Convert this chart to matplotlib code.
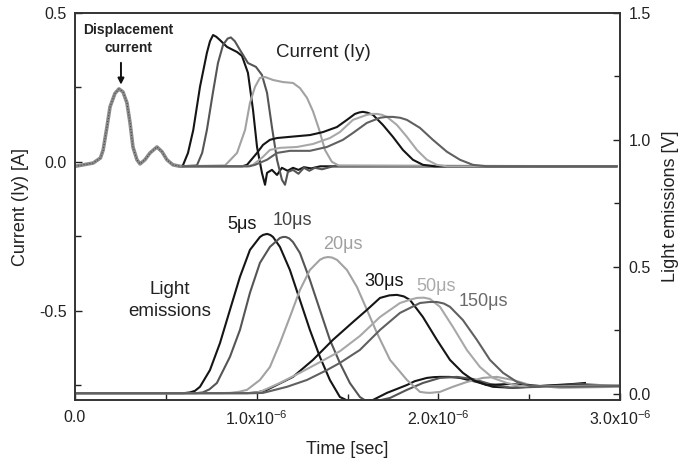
import matplotlib
matplotlib.use("Agg")
import matplotlib.pyplot as plt
from matplotlib.ticker import MultipleLocator

plt.rcParams['font.family'] = ['Liberation Sans', 'DejaVu Sans']
plt.rcParams['mathtext.default'] = 'regular'

# time in microseconds
# displacement current part shared by all six traces (A)
disp_t = [0.0, 0.10, 0.14, 0.155, 0.176, 0.193, 0.22, 0.242, 0.264, 0.286, 0.303,
          0.319, 0.341, 0.358, 0.385, 0.413, 0.451, 0.479, 0.506, 0.539, 0.578]
disp_i = [-0.015, -0.004, 0.013, 0.04, 0.118, 0.185, 0.23, 0.245, 0.235, 0.198, 0.131,
          0.05, 0.007, -0.007, 0.007, 0.03, 0.05, 0.034, 0.007, -0.01, -0.015]

# current (Iy) per pulse width
cur5_t = [0.58, 0.594, 0.622, 0.651, 0.688, 0.726, 0.743, 0.760, 0.778, 0.798, 0.837, 0.892, 0.919,
          0.952, 0.980, 1.002, 1.029, 1.046, 1.057, 1.084, 1.112, 1.139, 1.17, 1.2, 1.23, 1.26, 1.3,
          1.35, 2.98]
cur5_i = [-0.015, -0.012, 0.03, 0.107, 0.252, 0.366, 0.405, 0.426, 0.42, 0.409, 0.386, 0.369, 0.356,
          0.299, 0.174, 0.05, -0.037, -0.077, -0.037, -0.027, -0.044, -0.02, -0.03, -0.02, -0.027, -0.018, -0.022,
          -0.015, -0.015]

cur10_t = [0.58, 0.671, 0.70, 0.726, 0.759, 0.787, 0.815, 0.84, 0.858, 0.88, 0.908, 0.952, 0.996,
           1.029, 1.057, 1.084, 1.112, 1.139, 1.156, 1.172, 1.2, 1.23, 1.26, 1.29, 1.32, 1.36, 1.42, 2.98]
cur10_i = [-0.015, -0.012, 0.03, 0.107, 0.232, 0.332, 0.393, 0.414, 0.418, 0.405, 0.376, 0.332, 0.319,
           0.292, 0.232, 0.117, 0.007, -0.06, -0.077, -0.034, -0.027, -0.04, -0.02, -0.03, -0.02, -0.025, -0.015, -0.015]

cur20_t = [0.58, 0.826, 0.892, 0.936, 0.963, 0.991, 1.018, 1.046, 1.09, 1.145, 1.2, 1.238, 1.277,
           1.31, 1.343, 1.376, 1.414, 1.45, 2.98]
cur20_i = [-0.015, -0.012, 0.03, 0.107, 0.198, 0.252, 0.282, 0.285, 0.275, 0.268, 0.265, 0.248, 0.215,
           0.17, 0.11, 0.04, 0.0, -0.012, -0.015]

cur30_t = [0.58, 0.92, 0.947, 1.002, 1.035, 1.073, 1.112, 1.183, 1.293, 1.365, 1.442, 1.497, 1.541,
           1.565, 1.585, 1.61, 1.64, 1.695, 1.75, 1.805, 1.86, 1.915, 1.98, 2.98]
cur30_i = [-0.015, -0.015, -0.01, 0.03, 0.057, 0.074, 0.08, 0.084, 0.09, 0.10, 0.117, 0.141, 0.161,
           0.166, 0.168, 0.165, 0.158, 0.124, 0.084, 0.04, 0.007, -0.01, -0.015, -0.015]

cur50_t = [0.58, 0.95, 0.98, 1.035, 1.073, 1.128, 1.222, 1.31, 1.403, 1.458, 1.53, 1.607, 1.635,
           1.662, 1.69, 1.717, 1.772, 1.827, 1.882, 1.937, 1.992, 2.047, 2.98]
cur50_i = [-0.015, -0.015, -0.01, 0.017, 0.04, 0.047, 0.05, 0.06, 0.08, 0.10, 0.141, 0.158, 0.161,
           0.161, 0.158, 0.151, 0.124, 0.084, 0.04, 0.007, -0.01, -0.015, -0.015]

cur150_t = [0.58, 0.96, 0.991, 1.057, 1.112, 1.183, 1.293, 1.387, 1.475, 1.53, 1.607, 1.679, 1.715,
            1.75, 1.79, 1.827, 1.899, 1.97, 2.047, 2.119, 2.19, 2.268, 2.98]
cur150_i = [-0.015, -0.015, -0.01, 0.007, 0.03, 0.037, 0.037, 0.05, 0.074, 0.097, 0.131, 0.148, 0.151,
            0.151, 0.148, 0.141, 0.114, 0.074, 0.034, 0.007, -0.01, -0.015, -0.015]

# light emissions (V)
le5_t = [0.0, 0.60, 0.633, 0.66, 0.688, 0.743, 0.798, 0.853, 0.908, 0.963, 1.018, 1.035, 1.057, 1.075,
         1.09, 1.128, 1.183, 1.238, 1.293, 1.348, 1.403, 1.458, 1.513, 1.54, 1.568, 1.64, 1.717, 1.827,
         1.87, 1.937, 1.975, 2.009, 2.06, 2.119, 2.212, 2.3, 2.41, 2.559, 2.741, 2.807]
le5_v = [0.003, 0.003, 0.006, 0.012, 0.028, 0.094, 0.2, 0.331, 0.461, 0.567, 0.618, 0.626, 0.63, 0.626,
         0.618, 0.579, 0.488, 0.37, 0.252, 0.146, 0.055, -0.012, -0.031, -0.034, -0.035, -0.024, 0.004, 0.035,
         0.05, 0.063, 0.066, 0.067, 0.067, 0.063, 0.047, 0.028, 0.024, 0.031, 0.039, 0.043]

le10_t = [0.0, 0.67, 0.704, 0.74, 0.781, 0.853, 0.908, 0.963, 1.018, 1.073, 1.128, 1.145, 1.161, 1.18,
          1.2, 1.238, 1.293, 1.348, 1.403, 1.458, 1.513, 1.568, 1.60, 1.64, 1.734, 1.827, 1.915, 2.009,
          2.102, 2.19, 2.284, 2.394, 2.559, 2.779, 2.99]
le10_v = [0.003, 0.003, 0.006, 0.018, 0.043, 0.146, 0.252, 0.398, 0.516, 0.579, 0.614, 0.618, 0.618, 0.612,
          0.598, 0.555, 0.449, 0.331, 0.213, 0.122, 0.043, -0.012, -0.027, -0.031, -0.016, 0.016, 0.043, 0.063,
          0.067, 0.059, 0.039, 0.024, 0.028, 0.039, 0.031]

le20_t = [0.0, 0.80, 0.853, 0.90, 0.947, 1.018, 1.073, 1.128, 1.183, 1.238, 1.293, 1.348, 1.37, 1.392,
          1.415, 1.442, 1.497, 1.552, 1.607, 1.662, 1.734, 1.827, 1.899, 1.93, 1.954, 2.009, 2.08, 2.157,
          2.245, 2.322, 2.41, 2.504, 2.669, 2.99]
le20_v = [0.003, 0.003, 0.004, 0.008, 0.016, 0.055, 0.106, 0.2, 0.303, 0.409, 0.488, 0.528, 0.536, 0.539,
          0.537, 0.528, 0.488, 0.421, 0.331, 0.24, 0.134, 0.055, 0.008, 0.005, 0.004, 0.008, 0.028, 0.047,
          0.063, 0.067, 0.055, 0.035, 0.024, 0.028]

le30_t = [0.0, 0.95, 1.002, 1.05, 1.09, 1.2, 1.31, 1.42, 1.53, 1.607, 1.679, 1.73, 1.772, 1.81, 1.844,
          1.915, 1.992, 2.064, 2.135, 2.19, 2.267, 2.394, 2.559, 2.779, 2.99]
le30_v = [0.003, 0.003, 0.006, 0.014, 0.028, 0.067, 0.134, 0.213, 0.283, 0.331, 0.378, 0.388, 0.39, 0.384, 0.37,
          0.303, 0.213, 0.134, 0.083, 0.055, 0.035, 0.039, 0.031, 0.035, 0.033]

le50_t = [0.0, 0.98, 1.018, 1.128, 1.238, 1.348, 1.458, 1.568, 1.679, 1.789, 1.85, 1.882, 1.92, 1.954,
          2.009, 2.08, 2.157, 2.229, 2.3, 2.378, 2.449, 2.669, 2.99]
le50_v = [0.003, 0.003, 0.008, 0.043, 0.083, 0.125, 0.168, 0.228, 0.303, 0.358, 0.372, 0.378, 0.379, 0.374,
          0.343, 0.264, 0.173, 0.106, 0.063, 0.043, 0.031, 0.031, 0.035]

le150_t = [0.0, 1.0, 1.035, 1.167, 1.277, 1.387, 1.458, 1.568, 1.679, 1.789, 1.899, 1.95, 1.992, 2.03,
           2.064, 2.135, 2.212, 2.284, 2.356, 2.433, 2.504, 2.724, 2.99]
le150_v = [0.003, 0.003, 0.004, 0.028, 0.055, 0.094, 0.122, 0.173, 0.252, 0.319, 0.358, 0.362, 0.362, 0.356,
           0.343, 0.291, 0.213, 0.134, 0.083, 0.047, 0.031, 0.028, 0.031]

widths = ["5\u03bcs", "10\u03bcs", "20\u03bcs", "30\u03bcs", "50\u03bcs", "150\u03bcs"]
colors = ["#151515", "#555555", "#a2a2a2", "#151515", "#a8a8a8", "#606060"]
label_colors = ["#151515", "#444444", "#a0a0a0", "#151515", "#aaaaaa", "#6a6a6a"]

x_ticks = [0, 1, 2, 3]
x_ticklabels = ["0.0", "1.0x10$^{-6}$", "2.0x10$^{-6}$", "3.0x10$^{-6}$"]

currents = [(cur5_t, cur5_i), (cur10_t, cur10_i), (cur20_t, cur20_i),
            (cur30_t, cur30_i), (cur50_t, cur50_i), (cur150_t, cur150_i)]
lights = [(le5_t, le5_v), (le10_t, le10_v), (le20_t, le20_v),
          (le30_t, le30_v), (le50_t, le50_v), (le150_t, le150_v)]

fig = plt.figure(figsize=(6.92, 4.63), dpi=100)
ax = fig.add_axes([75 / 692, 1 - 400 / 463, 545 / 692, 387 / 463])
ax2 = ax.twinx()

lw = 1.5
for (t, i), c in zip(currents, colors):
    ax.plot(t, i, color=c, lw=lw, solid_joinstyle="round")
ax.plot(disp_t, disp_i, color="#8c8c8c", lw=2.6, solid_capstyle="round", solid_joinstyle="round")
ax.plot(disp_t, disp_i, color="#3a3a3a", lw=0.7, ls=(0, (1, 2)))

for (t, v), c in zip(lights, colors):
    ax2.plot(t, v, color=c, lw=lw, solid_joinstyle="round")

ax.set_xlim(0, 3)
ax.set_ylim(-0.8, 0.5)
ax2.set_ylim(-0.024, 1.5)

ax.set_xticks(x_ticks)
ax.set_xticklabels(x_ticklabels)
ax.xaxis.set_minor_locator(MultipleLocator(0.5))
ax.set_yticks([-0.5, 0.0, 0.5])
ax.set_yticklabels(["-0.5", "0.0", "0.5"])
ax.yaxis.set_minor_locator(MultipleLocator(0.25))
ax2.set_yticks([0.0, 0.5, 1.0, 1.5])
ax2.set_yticklabels(["0.0", "0.5", "1.0", "1.5"])
ax2.yaxis.set_minor_locator(MultipleLocator(0.25))

for a in (ax, ax2):
    a.tick_params(which="both", direction="in", labelsize=11.5, colors="#222222", width=1.0)
    a.tick_params(which="major", length=5, pad=6)
    a.tick_params(which="minor", length=4)
    for sp in a.spines.values():
        sp.set_linewidth(1.2)
        sp.set_color("#333333")
ax.tick_params(axis="x", which="both", top=False)
ax.tick_params(axis="x", pad=7)

ax.set_xlabel("Time [sec]", fontsize=13, color="#222222")
ax.xaxis.set_label_coords(0.5, -0.105)
ax.set_ylabel("Current (Iy) [A]", fontsize=13, color="#222222")
ax.yaxis.set_label_coords(-0.084, 0.5)
ax2.set_ylabel("Light emissions [V]", fontsize=13, color="#222222", rotation=90)
ax2.yaxis.set_label_coords(1.077, 0.5)

# annotations
ax.text(0.292, 0.413, "Displacement\ncurrent", fontsize=10, fontweight="bold",
        ha="center", va="center", color="#222222", linespacing=1.39)
ax.annotate("", xy=(0.253, 0.25), xytext=(0.253, 0.342),
            arrowprops=dict(arrowstyle="-|>", color="#111111", lw=1.4, mutation_scale=9))
ax.text(1.365, 0.366, "Current (Iy)", fontsize=13.5, ha="center", va="center", color="#222222")
ax.text(0.523, -0.466, "Light\nemissions", fontsize=13.5, ha="center", va="center",
        color="#222222", linespacing=1.4)

label_pos = [(0.919, -0.211), (1.194, -0.198), (1.475, -0.279),
             (1.70, -0.403), (1.987, -0.419), (2.25, -0.47)]
for (x, y), s, c in zip(label_pos, widths, label_colors):
    ax.text(x, y, s, fontsize=13, ha="center", va="center", color=c)

fig.savefig("out.png", dpi=100)
